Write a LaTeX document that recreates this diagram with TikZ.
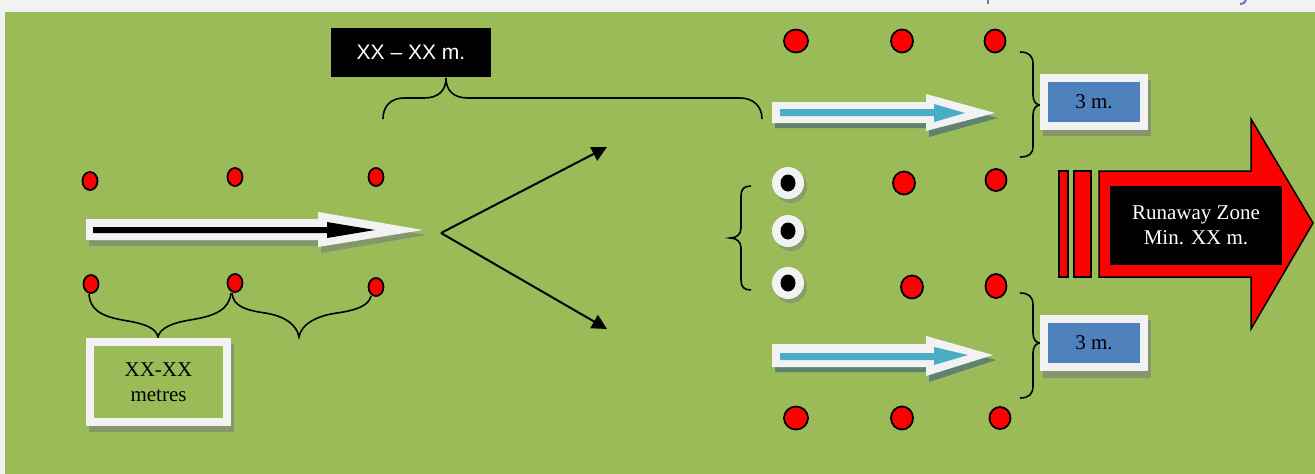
\documentclass[tikz,border=0pt]{standalone}
\usepackage{fontspec}
\setmainfont{Liberation Serif}
\newfontfamily\sansf{Liberation Sans}
\usetikzlibrary{arrows.meta,shapes.geometric}
\definecolor{bg}{HTML}{9BBB59}
\definecolor{paper}{HTML}{F2F2F2}
\definecolor{cyanb}{HTML}{4BACC6}
\definecolor{boxblue}{HTML}{4F81BD}
\definecolor{shad}{HTML}{84976C}
\definecolor{shadb}{HTML}{5E8470}
\definecolor{topink}{HTML}{6F6FB0}
\tikzset{
  reddot/.style={ellipse, draw=black, line width=1.8pt, fill=red, inner sep=0pt},
  smalldot/.style={reddot, minimum width=15pt, minimum height=18pt},
  bigdot/.style={reddot, minimum width=22pt, minimum height=23pt},
  ringdot/.style={circle, fill=paper, minimum size=32pt, inner sep=0pt},
  eyedot/.style={ellipse, fill=black, minimum width=15pt, minimum height=17pt, inner sep=0pt},
  brace/.style={draw=black, line width=1.6pt},
  vline/.style={draw=black, line width=2pt, -{Triangle[length=15pt,width=15pt]}},
  txt/.style={font=\fontsize{21}{25.5}\selectfont, align=center},
  framebox/.style={rectangle, draw=paper, line width=8pt, inner sep=0pt, txt, text=black},
  blackbox/.style={rectangle, fill=black, inner sep=0pt, txt, text=white},
  shadowfill/.style={fill=shad},
  whitearrow/.style={fill=paper},
}
\begin{document}
\begin{tikzpicture}[x=1pt,y=-1pt]
\useasboundingbox (0,0) rectangle (1315,474);
% background
\fill[paper] (0,0) rectangle (1315,474);
\fill[bg] (5,12) rectangle (1315,474);
% cut-off marks at top
\draw[topink, line width=2pt] (988,0) -- (988,3.5);
\draw[topink, line width=2pt] (1246,0) .. controls (1245,3) and (1243,4) .. (1240,4);

% ---------- left black arrow ----------
\fill[shadowfill] (89,224) -- (321,224) -- (321,217) -- (426,235) -- (321,253) -- (321,246) -- (89,246) -- cycle;
\fill[whitearrow] (86,219) -- (318,219) -- (318,212) -- (423,230) -- (318,247) -- (318,240) -- (86,240) -- cycle;
\fill[black] (93,227) -- (327,227) -- (327,222) -- (375,230) -- (327,238) -- (327,233) -- (93,233) -- cycle;

% ---------- left dots ----------
\node[smalldot] (l1) at (90,181) {};
\node[smalldot] (l2) at (235,177) {};
\node[smalldot] (l3) at (376,177) {};
\node[smalldot] (l4) at (91,284) {};
\node[smalldot] (l5) at (235,283) {};
\node[smalldot] (l6) at (376,287) {};

% braces under left dots
\path[brace] (89,294) .. controls (90,314) and (110,318) .. (128,321)
  .. controls (145,324) and (156,328) .. (158,337)
  .. controls (160,328) and (172,323) .. (190,320)
  .. controls (215,316) and (229,310) .. (231,293);
\path[brace] (232,293) .. controls (233,306) and (245,310) .. (265,313)
  .. controls (285,316) and (297,325) .. (299,337)
  .. controls (301,325) and (315,316) .. (337,313)
  .. controls (358,310) and (369,305) .. (371,296);

% metres box
\fill[shadowfill] (89,344) rectangle (234,432);
\node[framebox, fill=bg, minimum width=137pt, minimum height=80pt] (metres) at (158.5,382) {XX-XX\\metres};

% ---------- top brace and black label ----------
\path[brace] (383,119) .. controls (383,106) and (391,98) .. (404,98) -- (424,98)
  .. controls (438,98) and (446,91) .. (446,78)
  .. controls (446,91) and (454,98) .. (468,98) -- (740,98)
  .. controls (753,98) and (762,106) .. (762,119);
\node[blackbox, minimum width=160pt, minimum height=49pt, font=\sansf\fontsize{21}{25}\selectfont] (span) at (411,52.5) {XX – XX m.};

% ---------- V arrows ----------
\coordinate (v) at (441,233);
\coordinate (vup) at (607,147);
\coordinate (vdn) at (607,329);
\draw[vline] (v) -- (vup);
\draw[vline] (v) -- (vdn);

% ---------- right dots ----------
\node[bigdot, minimum width=24pt] (r1) at (796,41) {};
\node[bigdot] (r2) at (902,41) {};
\node[bigdot, minimum width=21pt] (r3) at (995,41) {};
\node[bigdot] (r4) at (904,183) {};
\node[bigdot, minimum width=21pt, minimum height=22pt] (r5) at (996,180) {};
\node[bigdot] (r6) at (912,287) {};
\node[bigdot, minimum width=21pt, minimum height=24pt] (r7) at (996,286) {};
\node[bigdot, minimum width=24pt] (r8) at (796,418) {};
\node[bigdot] (r9) at (902,418) {};
\node[bigdot, minimum width=21pt, minimum height=22pt] (r10) at (1000,418) {};

% ring dots with shadow
\foreach \yy in {183,231,283} {
  \fill[shad, opacity=0.8] (791,\yy+4) circle (16);
}
\node[ringdot] (c1) at (788,183) {};
\node[ringdot] (c2) at (788,231) {};
\node[ringdot] (c3) at (788,283) {};
\node[eyedot] (e1) at (c1) {};
\node[eyedot] (e2) at (c2) {};
\node[eyedot] (e3) at (c3) {};

% brace left of rings
\path[brace] (751,186) .. controls (744,186) and (741,189) .. (741,196) -- (741,228)
  .. controls (741,234) and (737,238) .. (730,238)
  .. controls (737,238) and (741,242) .. (741,248) -- (741,280)
  .. controls (741,287) and (744,290) .. (751,290);

% ---------- blue arrows ----------
\fill[shadb] (775,107) -- (929,107) -- (929,100) -- (998,118) -- (929,137) -- (929,128) -- (775,128) -- cycle;
\fill[whitearrow] (772,102) -- (926,102) -- (926,94) -- (995,113) -- (926,131) -- (926,123) -- (772,123) -- cycle;
\fill[cyanb] (780,109) -- (934,109) -- (934,104) -- (965,113) -- (934,122) -- (934,116) -- (780,116) -- cycle;

\fill[shadb] (775,349) -- (929,349) -- (929,342) -- (996,360) -- (929,382) -- (929,372) -- (775,372) -- cycle;
\fill[whitearrow] (772,344) -- (926,344) -- (926,336) -- (993,355) -- (926,376) -- (926,367) -- (772,367) -- cycle;
\fill[cyanb] (780,353) -- (934,353) -- (934,347) -- (968,355) -- (934,365) -- (934,360) -- (780,360) -- cycle;

% right braces
\path[brace] (1020,52) .. controls (1029,52) and (1033,56) .. (1033,64) -- (1033,95)
  .. controls (1033,101) and (1036,105) .. (1040,105)
  .. controls (1036,105) and (1033,109) .. (1033,115) -- (1033,146)
  .. controls (1033,154) and (1029,157) .. (1020,157);
\path[brace] (1020,293) .. controls (1029,293) and (1033,297) .. (1033,305) -- (1033,333)
  .. controls (1033,339) and (1036,343) .. (1040,343)
  .. controls (1036,343) and (1033,347) .. (1033,353) -- (1033,386)
  .. controls (1033,394) and (1029,398) .. (1020,398);

% 3 m. boxes
\fill[shadowfill] (1043,80) rectangle (1151,136);
\node[framebox, fill=boxblue, minimum width=100pt, minimum height=48pt] (b1) at (1094,102) {3 m.};
\fill[shadowfill] (1043,320) rectangle (1151,378);
\node[framebox, fill=boxblue, minimum width=100pt, minimum height=48pt] (b2) at (1094,343) {3 m.};

% ---------- runaway arrow ----------
\node[rectangle, draw=black, line width=1.5pt, fill=red, minimum width=9pt, minimum height=106pt, inner sep=0pt] (bar1) at (1063.5,224) {};
\node[rectangle, draw=black, line width=1.5pt, fill=red, minimum width=17pt, minimum height=106pt, inner sep=0pt] (bar2) at (1082.5,224) {};
\path[draw=black, line width=1.5pt, fill=red] (1099,171) -- (1251,171) -- (1251,119) -- (1313,223) -- (1251,329) -- (1251,277) -- (1099,277) -- cycle;
\node[blackbox, minimum width=172pt, minimum height=79pt] (runaway) at (1196,225.5) {Runaway Zone\\Min. XX m.};
\end{tikzpicture}
\end{document}
